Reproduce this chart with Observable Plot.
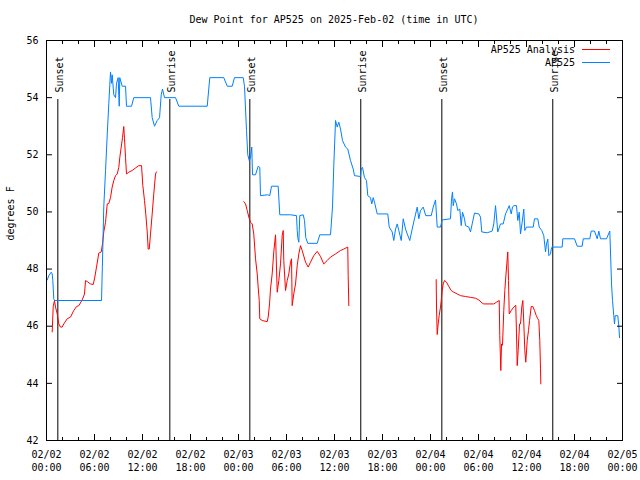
<!DOCTYPE html>
<html><head><meta charset="utf-8">
<script src="https://cdn.jsdelivr.net/npm/d3@7"></script>
<script src="https://cdn.jsdelivr.net/npm/@observablehq/plot@0.6"></script>
<style>
body{margin:0;background:#fff;font-family:"DejaVu Sans Mono",monospace;color:#000;}
#wrap{position:relative;width:640px;height:480px;overflow:hidden;}
#title{position:absolute;left:46px;width:576px;top:15px;line-height:10px;font-size:10px;text-align:center;}
#chart{position:absolute;left:0;top:28px;}
.legt{position:absolute;right:65px;font-size:10px;line-height:10px;text-align:right;white-space:pre;}
.legl{position:absolute;left:582px;width:28px;height:1px;}
</style></head>
<body>
<div id="wrap">
<div id="title">Dew Point for AP525 on 2025-Feb-02 (time in UTC)</div>
<div id="chart"></div>
<div class="legt" style="top:45px">AP525 Analysis</div>
<div class="legl" style="top:49px;background:#ff0000"></div>
<div class="legt" style="top:58px">AP525</div>
<div class="legl" style="top:62px;background:#0080ff"></div>
</div>
<script>
// hours since 2025-02-02 00:00 UTC
const blueHours = [0.09,0.29,0.59,0.71,0.79,0.91,1.0,6.88,7.16,7.38,7.59,7.79,8.0,8.13,8.21,8.41,8.63,8.75,8.96,9.09,9.16,9.46,9.88,10.0,10.63,10.91,13.0,13.21,13.5,13.84,14.13,14.34,14.5,14.75,16.13,16.54,20.09,20.41,22.16,22.59,23.21,23.5,24.59,24.75,25.0,25.16,25.34,25.5,25.66,25.75,26.13,26.46,26.66,26.75,27.66,27.91,28.13,28.96,29.16,30.5,31.25,31.34,31.41,31.54,31.66,32.09,32.25,32.41,32.66,33.84,34.16,35.5,35.75,35.91,36.13,36.34,36.54,36.75,37.0,37.38,37.66,38.0,38.34,38.5,39.25,39.34,39.5,39.75,40.0,40.16,40.5,40.66,40.84,41.0,41.34,42.66,42.84,43.21,43.41,43.63,43.84,44.04,44.34,44.59,44.88,45.09,45.41,45.71,46.0,46.34,46.54,46.75,47.09,47.41,48.09,48.34,48.63,48.84,49.25,49.46,50.5,50.63,50.75,50.84,51.0,51.25,51.41,51.66,51.84,52.0,52.25,52.38,52.79,53.0,53.21,53.5,54.04,54.25,54.41,55.09,55.71,55.91,56.13,56.41,56.75,57.09,57.38,57.66,57.84,58.09,58.25,58.41,58.75,58.91,59.09,59.25,59.46,59.66,59.79,60.0,60.84,61.0,61.41,61.59,61.91,62.16,62.38,62.5,62.66,62.79,63.0,63.09,63.25,63.29,64.46,64.54,66.0,66.34,66.96,67.09,67.91,68.09,68.5,68.84,69.04,69.25,70.0,70.41,70.5,70.63,70.75,70.91,71.0,71.09,71.41,71.54,71.63];
const blueValues = [47.62,47.77,47.89,47.83,47.6,46.96,46.9,46.9,50.17,51.45,52.7,53.8,54.9,54.5,54.8,54.1,54.0,54.5,54.7,53.7,54.7,54.4,54.4,53.7,53.7,54.0,54.0,53.3,53.0,53.2,53.3,54.1,54.3,54.0,54.0,53.7,53.7,54.7,54.7,54.4,54.4,54.7,54.7,54.4,52.85,52.0,51.8,51.9,52.27,51.3,51.3,51.6,51.56,50.57,50.6,50.57,50.9,50.9,49.9,49.9,49.87,49.35,49.1,48.94,49.87,49.9,49.7,49.1,48.9,48.9,49.2,49.2,50.17,51.6,53.2,52.97,53.14,52.9,52.5,52.27,52.2,51.8,51.5,51.27,51.24,51.5,51.56,51.2,51.1,50.57,50.5,50.28,50.5,50.34,49.93,49.93,49.47,49.3,49.0,49.4,49.58,49.35,49.0,49.76,49.4,49.23,49.0,49.4,49.76,50.17,49.76,50.05,50.17,49.87,49.87,50.17,50.42,49.47,49.47,49.72,49.76,50.46,50.7,50.22,50.46,50.28,50.05,50.1,49.52,49.99,49.76,49.52,49.47,49.3,49.58,49.96,49.93,49.82,49.3,49.27,49.33,49.58,50.22,49.3,49.58,49.58,49.93,50.1,50.22,49.93,50.17,50.22,50.22,49.7,49.99,49.23,49.64,50.1,49.35,49.47,49.47,49.76,49.76,49.47,49.35,49.17,48.6,48.88,49.05,48.47,48.53,48.7,48.8,48.77,48.77,49.06,49.06,48.8,48.8,49.06,49.06,49.33,49.33,49.06,49.33,49.06,49.06,49.33,48.6,47.48,46.9,46.37,46.08,46.37,46.37,46.0,45.6];

// null entries separate the three analysis segments
const redHours = [0.71,0.84,1.0,1.13,1.34,1.54,1.75,1.96,2.16,2.59,3.0,3.41,3.75,4.04,4.46,4.75,4.88,5.09,5.5,5.84,6.04,6.25,6.54,6.84,7.0,7.16,7.38,7.59,7.79,8.0,8.21,8.41,8.63,8.84,9.04,9.16,9.34,9.5,9.66,9.75,9.88,10.0,10.29,10.71,11.13,11.54,11.88,12.04,12.25,12.41,12.59,12.71,12.84,13.0,13.21,13.41,13.63,13.75,
 null,
 24.66,24.88,25.09,25.29,25.5,25.71,25.91,26.13,26.34,26.46,26.59,26.66,26.96,27.59,27.71,27.88,28.0,28.21,28.41,28.63,28.84,29.04,29.25,29.46,29.59,29.66,29.88,30.09,30.29,30.5,30.63,30.71,30.91,31.13,31.34,31.54,31.75,31.96,32.38,32.71,33.0,33.41,33.84,34.25,34.66,35.09,35.5,36.13,36.75,37.16,37.66,37.71,37.79,
 null,
 48.71,48.75,48.84,48.96,49.09,49.25,49.34,49.46,49.59,49.75,50.0,50.29,50.59,50.91,51.34,51.75,52.38,53.0,53.63,54.04,54.46,54.66,55.91,56.25,56.59,56.66,56.79,56.88,57.0,57.16,57.29,57.41,57.54,57.66,57.75,57.84,58.09,58.41,58.66,58.75,58.84,58.96,59.13,59.25,59.41,59.54,59.66,59.79,59.91,60.09,60.25,60.38,60.59,60.79,61.0,61.21,61.41,61.54,61.66,61.75,61.79];
const redValues = [45.8,46.7,46.9,46.67,46.43,46.08,45.97,45.97,46.08,46.26,46.32,46.55,46.69,46.72,46.92,47.13,47.6,47.56,47.48,47.46,47.72,48.07,48.56,48.6,48.88,49.3,49.64,50.28,50.3,50.5,50.87,51.1,51.27,51.33,51.56,51.9,52.27,52.6,52.99,52.56,51.9,51.33,51.39,51.45,51.54,51.62,51.62,50.92,50.4,49.93,49.3,48.7,48.7,49.23,49.93,50.63,51.33,51.4,
 null,
 50.36,50.28,50.05,49.82,49.64,49.58,49.23,48.36,47.83,47.37,46.9,46.26,46.2,46.16,46.32,46.78,47.3,47.83,48.6,49.2,47.19,47.6,48.18,49.17,49.35,48.3,47.25,47.6,47.83,48.24,48.36,46.72,47.13,47.48,48.13,48.53,48.82,48.65,48.24,48.07,48.24,48.47,48.62,48.44,48.18,48.3,48.42,48.53,48.65,48.7,48.77,47.77,46.72,
 null,
 47.63,46.67,45.71,46.08,46.38,46.67,46.9,47.25,47.48,47.6,47.54,47.39,47.25,47.19,47.13,47.07,47.04,47.01,46.98,46.92,46.81,46.78,46.78,46.84,46.9,45.67,44.45,45.38,45.33,46.55,47.25,47.72,48.18,48.6,47.6,46.43,46.55,46.67,46.73,45.73,44.62,45.15,46.08,46.08,46.67,46.9,46.14,45.15,44.74,45.5,45.85,46.2,46.69,46.69,46.55,46.38,46.26,46.2,45.5,44.51,43.98];

const sunTimes = ["2025-02-02T01:25Z","2025-02-02T15:25Z","2025-02-03T01:25Z","2025-02-03T15:17Z","2025-02-04T01:25Z","2025-02-04T15:17Z"];
const sunLabels = ["Sunset","Sunrise","Sunset","Sunrise","Sunset","Sunrise"];

const xTickHours = [0,6,12,18,24,30,36,42,48,54,60,66,72];
const xMinorHours = d3.range(0, 73, 2);
const yTicks = [42,44,46,48,50,52,54,56];

const start = Date.UTC(2025, 1, 2);
const toDate = h => new Date(start + h * 3600e3);
const fmt = d3.utcFormat("%m/%d\n%H:%M");

const blue = blueHours.map((h, i) => ({t: toDate(h), v: blueValues[i]}));
const red = redHours.map((h, i) => ({t: h == null ? undefined : toDate(h), v: redValues[i] == null ? NaN : redValues[i]}));
const sun = sunTimes.map((s, i) => ({t: new Date(s), label: sunLabels[i]}));
const majorTicks = xTickHours.map(toDate);
const minorTicks = xMinorHours.map(toDate);

const chart = Plot.plot({
  width: 640, height: 452,
  marginTop: 12, marginBottom: 40, marginLeft: 46, marginRight: 18,
  style: {fontFamily: "'DejaVu Sans Mono', monospace", fontSize: "10px", color: "#000", background: "#fff"},
  x: {type: "utc", domain: [toDate(0), toDate(72)]},
  y: {domain: [42, 56]},
  marks: [
    Plot.ruleX(sun, {x: "t", insetTop: 59, stroke: "#000", strokeWidth: 1}),
    Plot.text(sun, {x: "t", text: "label", frameAnchor: "top", dy: 52, dx: -2, rotate: -90, textAnchor: "start", fill: "#000"}),
    Plot.line(red, {x: "t", y: "v", stroke: "#ff0000", strokeWidth: 1}),
    Plot.line(blue, {x: "t", y: "v", stroke: "#0080ff", strokeWidth: 1}),
    Plot.frame({stroke: "#000"}),
    Plot.axisX({anchor: "bottom", ticks: majorTicks, tickSize: 0, tickPadding: 8, tickFormat: fmt, lineHeight: 1.3, label: null}),
    Plot.axisX({anchor: "bottom", ticks: majorTicks, tickSize: -6, fill: "none", label: null}),
    Plot.axisX({anchor: "top", ticks: majorTicks, tickSize: -6, fill: "none", label: null}),
    Plot.axisX({anchor: "bottom", ticks: minorTicks, tickSize: -3, fill: "none", label: null}),
    Plot.axisX({anchor: "top", ticks: minorTicks, tickSize: -3, fill: "none", label: null}),
    Plot.axisY({anchor: "left", ticks: yTicks, tickSize: 0, tickPadding: 8, tickFormat: d3.format("d"), label: null}),
    Plot.axisY({anchor: "left", ticks: yTicks, tickSize: -6, fill: "none", label: null}),
    Plot.axisY({anchor: "right", ticks: yTicks, tickSize: -6, fill: "none", label: null}),
    Plot.text(["degrees F"], {frameAnchor: "left", dx: -36, rotate: -90, fill: "#000"})
  ]
});
document.getElementById("chart").appendChild(chart);
</script>
</body></html>
